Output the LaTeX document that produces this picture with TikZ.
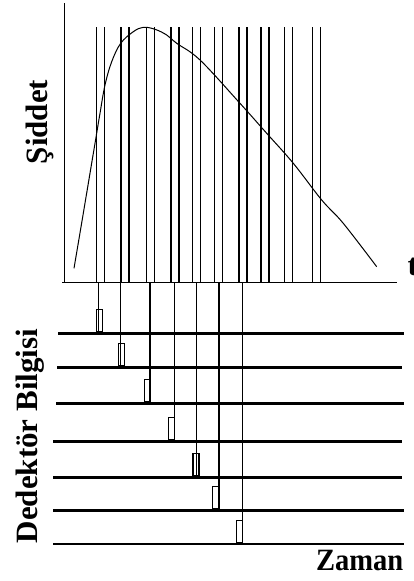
\documentclass[tikz,border=0pt]{standalone}
\usepackage{fontspec}
\setmainfont{Liberation Serif}
\begin{document}
\begin{tikzpicture}[x=1pt, y=-1pt,
    axis/.style={line width=1pt},
    gate/.style={line width=1.5pt},
    wire/.style={line width=1.3pt},
    track/.style={line width=2.8pt},
    hit/.style={draw, line width=1.1pt, minimum width=6pt, minimum height=22pt, inner sep=0pt, anchor=south},
    lab/.style={inner sep=0pt, font=\bfseries\fontsize{31}{33}\selectfont}]
  \useasboundingbox (0,0) rectangle (414,581);
  % axes
  \coordinate (ytop) at (64,3);
  \coordinate (o) at (64,282.5);
  \coordinate (xend) at (397,282.5);
  \draw[axis] (ytop) -- (o);
  \draw[axis] (62,282.5) -- (xend);
  % gate pairs
  \foreach \a in {96.7, 121, 146.7, 171, 192.7, 214.3, 239, 261, 284.3, 312.7} {
    \draw[gate] (\a,27) -- (\a,282.5);
    \draw[gate] (\a+8,27) -- (\a+8,282.5);
  }
  % pulse
  \draw[line width=1pt] plot[smooth, tension=0.6] coordinates {(74,268.3) (83.3,213.3) (95,143.3) (100,113.3) (105,85) (111.7,61.7) (120.7,43.3) (133.3,31.7) (143.3,27.3) (155,29.3) (166.7,35) (176.7,43.3) (200,60) (240,103.3) (266.7,133.3) (293.3,163.3) (321.7,200) (343,223) (376.7,266.7)};
  % detector tracks with hits
  \foreach \i/\x/\y/\d/\w/\e in {1/98.3/333.3/0.9/58/404, 2/120.7/367.7/1/57/402, 3/150/403.3/-2.5/56/404, 4/174.3/441.7/-2.6/53/402, 5/196.7/477.3/-0.7/53/402, 6/219/510.7/-3.2/53/404, 7/242.3/544/-2.6/53/404} {
    \coordinate (trk\i w) at (\w,\y);
    \coordinate (trk\i e) at (\e,\y);
    \draw[track] (trk\i w) -- (trk\i e);
    \coordinate (t\i) at (\x,282.5);
    \coordinate (b\i) at (\x,\y);
    \draw[wire] (t\i) -- (b\i);
    \node[hit] (r\i) at (\x+\d,\y-1.4) {};
  }
  % labels
  \node[lab, rotate=90, anchor=base] (sid) at (47,122) {Şiddet};
  \node[lab, rotate=90, anchor=base] (det) at (37,436) {Dedektör Bilgisi};
  \node[lab, anchor=base east] (zam) at (403.5,570) {\scalebox{0.92}[1]{Zaman}};
  \node[lab, anchor=base west] (tt) at (407.5,275) {t};
\end{tikzpicture}
\end{document}
